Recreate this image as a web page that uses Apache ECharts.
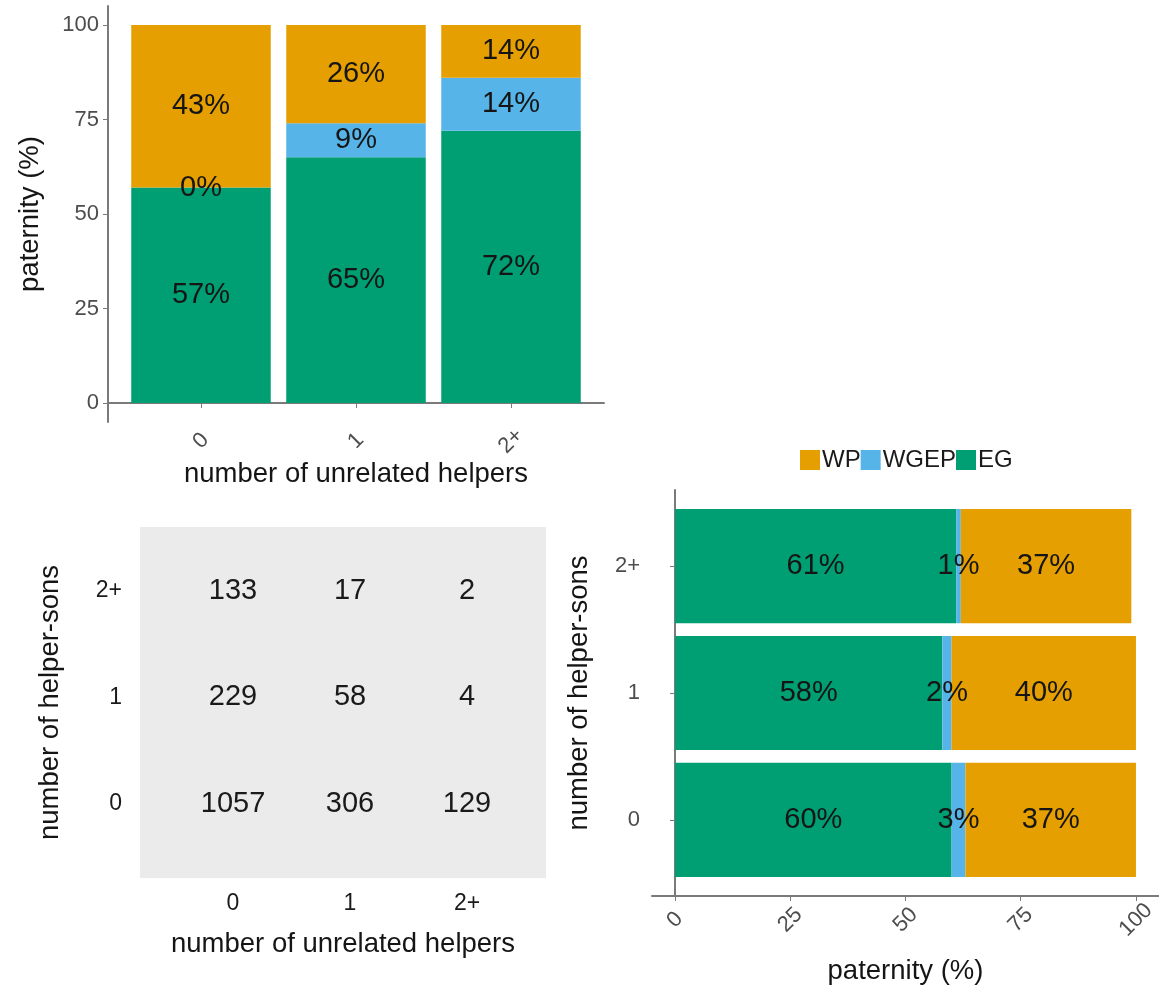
<!DOCTYPE html>
<html>
<head>
<meta charset="utf-8">
<title>Paternity by helpers</title>
<script src="https://cdn.jsdelivr.net/npm/echarts@6/dist/echarts.min.js"></script>
<style>
  html, body { margin: 0; padding: 0; background: #ffffff; }
  #chart { width: 1159px; height: 994px; }
</style>
</head>
<body>
<div id="chart"></div>
<script>
// Category labels
const helperCats = ['0', '1', '2+'];      // number of unrelated helpers
const sonCats = ['0', '1', '2+'];         // number of helper-sons
const pctTicks = [0, 25, 50, 75, 100];

// Paternity shares (%) by number of unrelated helpers
const helperEG = [57, 65, 72];
const helperWGEP = [0, 9, 14];
const helperWP = [43, 26, 14];

// Paternity shares (%) by number of helper-sons
const sonEG = [60, 58, 61];
const sonWGEP = [3, 2, 1];
const sonWP = [37, 40, 37];

// Sample counts: one row per helper-son class, columns = unrelated helpers 0, 1, 2+
const countsSons0 = [1057, 306, 129];
const countsSons1 = [229, 58, 4];
const countsSons2 = [133, 17, 2];

const COLORS = { WP: '#E69F00', WGEP: '#56B4E9', EG: '#009E73' };
const FONT = '"Liberation Sans", Arial, Helvetica, sans-serif';
const AXIS_GREY = '#7a7a7a';
const TICK_TEXT = '#4D4D4D';
const TITLE_SIZE = 27.5;
const TICK_SIZE = 22;
const VALUE_SIZE = 29;

// Panel layout (outer frame of each panel, axis lines on its left/bottom edges)
const P_TOP = { left: 108, top: 6, width: 496, height: 416 };
const P_HEAT = { left: 140, top: 527, width: 406, height: 351 };
const P_SIDE = { left: 652, top: 490, width: 507, height: 406 };

// Discrete axes are padded by 0.6 of a category on each side,
// so the bars live in an inner grid covering exactly the three bands.
const discMin = 0.4, discMax = 3.6;
const pad = (1 - discMin - 0.5) / (discMax - discMin);
const bandShare = 3 / (discMax - discMin);
const P_TOP_BARS = {
  top: P_TOP.top, height: P_TOP.height,
  left: P_TOP.left + pad * P_TOP.width,
  width: bandShare * P_TOP.width
};
const P_SIDE_BARS = {
  left: P_SIDE.left, width: P_SIDE.width,
  top: P_SIDE.top + pad * P_SIDE.height,
  height: bandShare * P_SIDE.height
};

const catFmt = cats => v => cats[Math.round(v) - 1] || '';

function lineStyle() { return { color: AXIS_GREY, width: 2 }; }
function titleStyle() { return { fontFamily: FONT, fontSize: TITLE_SIZE, color: '#151515' }; }

const barLabel = {
  show: true,
  position: 'inside',
  fontFamily: FONT,
  fontSize: VALUE_SIZE,
  color: '#151515',
  textBorderWidth: 0,
  formatter: '{c}%'
};

// Vertical stacked bars (top-left)
function topSeries(name, values) {
  return {
    name: name,
    type: 'bar',
    xAxisIndex: 1, yAxisIndex: 1,
    stack: 'helpers',
    barCategoryGap: '10%',
    itemStyle: { color: COLORS[name] },
    label: barLabel,
    data: values
  };
}

// Horizontal stacked bars (bottom-right)
function sideSeries(name, values) {
  return {
    name: name,
    type: 'bar',
    xAxisIndex: 4, yAxisIndex: 4,
    stack: 'sons',
    barCategoryGap: '10%',
    itemStyle: { color: COLORS[name] },
    label: barLabel,
    data: values
  };
}

// Count table cells as text at (helpers, sons) positions
const countRows = [countsSons0, countsSons1, countsSons2];
const countCells = [];
countRows.forEach((row, r) => row.forEach((n, c) => countCells.push([c + 1, r + 1, n])));

const chart = echarts.init(document.getElementById('chart'), null, { renderer: 'canvas' });

chart.setOption({
  backgroundColor: '#ffffff',
  animation: false,
  textStyle: { fontFamily: FONT },
  legend: {
    data: ['WP', 'WGEP', 'EG'],
    left: 795, top: 443,
    icon: 'rect',
    itemWidth: 20, itemHeight: 20, itemGap: 0,
    textStyle: { fontFamily: FONT, fontSize: 24, color: '#1a1a1a', padding: [0, 0, 0, -3] }
  },
  grid: [
    Object.assign({}, P_TOP),
    Object.assign({}, P_TOP_BARS),
    Object.assign({ show: true, backgroundColor: '#EBEBEB', borderWidth: 0 }, P_HEAT),
    Object.assign({}, P_SIDE),
    Object.assign({}, P_SIDE_BARS)
  ],
  xAxis: [
    {
      gridIndex: 0, type: 'value', min: discMin, max: discMax,
      name: 'number of unrelated helpers', nameLocation: 'middle', nameGap: 35,
      nameTextStyle: titleStyle(),
      axisLine: { show: true, lineStyle: lineStyle() },
      axisTick: { show: true, customValues: [1, 2, 3], length: 5, lineStyle: { color: AXIS_GREY } },
      axisLabel: {
        customValues: [1, 2, 3], formatter: catFmt(helperCats),
        rotate: 45, align: 'center', verticalAlign: 'middle', margin: 19,
        fontFamily: FONT, fontSize: TICK_SIZE, color: TICK_TEXT
      },
      splitLine: { show: false }
    },
    { gridIndex: 1, type: 'category', data: helperCats, show: false },
    {
      gridIndex: 2, type: 'value', min: 0.205, max: 3.675,
      name: 'number of unrelated helpers', nameLocation: 'middle', nameGap: 52,
      nameTextStyle: titleStyle(),
      axisLine: { show: false }, axisTick: { show: false },
      axisLabel: {
        customValues: [1, 2, 3], formatter: catFmt(helperCats), margin: 14,
        fontFamily: FONT, fontSize: 23, color: '#1a1a1a'
      },
      splitLine: { show: false }
    },
    {
      gridIndex: 3, type: 'value', min: -5, max: 105,
      name: 'paternity (%)', nameLocation: 'middle', nameGap: 61,
      nameTextStyle: titleStyle(),
      axisLine: { show: true, lineStyle: lineStyle() },
      axisTick: { show: true, customValues: pctTicks, length: 5, lineStyle: { color: AXIS_GREY } },
      axisLabel: {
        customValues: pctTicks, rotate: 45, align: 'center', verticalAlign: 'middle', margin: 24,
        fontFamily: FONT, fontSize: TICK_SIZE, color: TICK_TEXT
      },
      splitLine: { show: false }
    },
    { gridIndex: 4, type: 'value', min: -5, max: 105, show: false }
  ],
  yAxis: [
    {
      gridIndex: 0, type: 'value', min: -5, max: 105,
      name: 'paternity (%)', nameLocation: 'middle', nameGap: 64,
      nameTextStyle: titleStyle(),
      axisLine: { show: true, lineStyle: lineStyle() },
      axisTick: { show: true, customValues: pctTicks, length: 5, lineStyle: { color: AXIS_GREY } },
      axisLabel: { customValues: pctTicks, margin: 9, fontFamily: FONT, fontSize: TICK_SIZE, color: TICK_TEXT },
      splitLine: { show: false }
    },
    { gridIndex: 1, type: 'value', min: -5, max: 105, show: false },
    {
      gridIndex: 2, type: 'value', min: 0.3, max: 3.6,
      name: 'number of helper-sons', nameLocation: 'middle', nameGap: 76,
      nameTextStyle: titleStyle(),
      axisLine: { show: false }, axisTick: { show: false },
      axisLabel: {
        customValues: [1, 2, 3], formatter: catFmt(sonCats), margin: 18,
        fontFamily: FONT, fontSize: 23, color: '#1a1a1a'
      },
      splitLine: { show: false }
    },
    {
      gridIndex: 3, type: 'value', min: discMin, max: discMax,
      name: 'number of helper-sons', nameLocation: 'middle', nameGap: 59,
      nameTextStyle: titleStyle(),
      axisLine: { show: true, lineStyle: lineStyle() },
      axisTick: { show: true, customValues: [1, 2, 3], length: 5, lineStyle: { color: AXIS_GREY } },
      axisLabel: {
        customValues: [1, 2, 3], formatter: catFmt(sonCats), margin: 12,
        fontFamily: FONT, fontSize: TICK_SIZE, color: TICK_TEXT
      },
      splitLine: { show: false }
    },
    { gridIndex: 4, type: 'category', data: sonCats, show: false }
  ],
  series: [
    topSeries('EG', helperEG),
    topSeries('WGEP', helperWGEP),
    topSeries('WP', helperWP),
    {
      name: 'counts',
      type: 'scatter',
      xAxisIndex: 2, yAxisIndex: 2,
      symbolSize: 1,
      itemStyle: { color: '#EBEBEB', opacity: 1 },
      label: {
        show: true, position: 'inside',
        formatter: p => String(p.value[2]),
        fontFamily: FONT, fontSize: VALUE_SIZE, color: '#1a1a1a',
        textBorderWidth: 0
      },
      data: countCells
    },
    sideSeries('EG', sonEG),
    sideSeries('WGEP', sonWGEP),
    sideSeries('WP', sonWP)
  ]
});
</script>
</body>
</html>
